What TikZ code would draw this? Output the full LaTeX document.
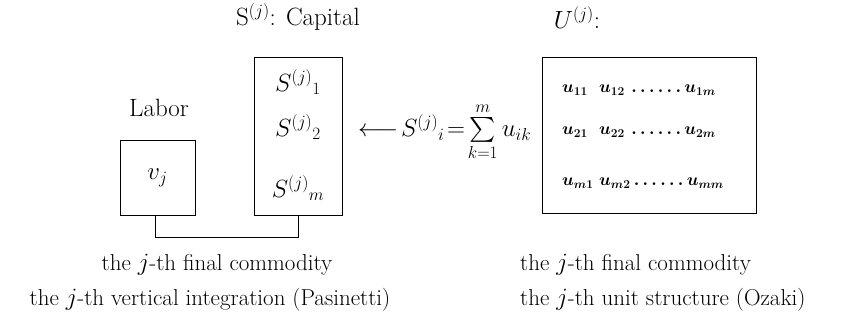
\documentclass[tikz,border=0pt]{standalone}
\usepackage{amsmath}
\usepackage{fontspec}
\usetikzlibrary{calc}
\begin{document}
\begin{tikzpicture}[x=1pt,y=-1pt,
  txt/.style={inner sep=0pt, font=\fontsize{23}{27}\selectfont},
  big/.style={inner sep=0pt, font=\fontsize{25}{29}\selectfont},
  row/.style={inner sep=0pt, anchor=west, font=\fontsize{18.5}{22}\selectfont\boldmath},
  box/.style={draw, line width=0.9pt},
  conn/.style={draw, line width=0.9pt}]
\useasboundingbox (0,0) rectangle (866,320);
% titles
\node[big] (tcap) at (298,17) {$\mathrm{S}^{(j)}$: Capital};
\node[big] (tu) at (577,18) {$U^{(j)}$:};
\node[big] (labor) at (159,108) {Labor};
% boxes
\node[box, minimum width=75pt, minimum height=75pt, inner sep=0pt] (lbox) at (157.5,177.5) {};
\node[txt] (vj) at (lbox.center) {$v_j$};
\node[box, minimum width=88pt, minimum height=158pt, inner sep=0pt] (cbox) at (298,136) {};
\node[txt] (s1) at (298,82) {$S^{(j)}{}_1$};
\node[txt] (s2) at (298,127) {$S^{(j)}{}_2$};
\node[txt] (sm) at (298,188) {$S^{(j)}{}_m$};
\node[box, minimum width=214pt, minimum height=156pt, inner sep=0pt] (ubox) at (649,135) {};
\node[row] (r1) at (562,90) {$u_{11}\;\; u_{12}\,\ldots\ldots u_{1m}$};
\node[row] (r2) at (562,132) {$u_{21}\;\; u_{22}\,\ldots\ldots u_{2m}$};
\node[row] (r3) at (562,183) {$u_{m1}\; u_{m2}\ldots\ldots u_{mm}$};
% formula
\node[txt, anchor=west] (form) at (358,132) {$\longleftarrow\! S^{(j)}{}_i\!=\!\sum\limits_{k=1}^{m} u_{ik}$};
% connector
\coordinate (c1) at ($(lbox.south)+(-2,22)$);
\draw[conn] (lbox.south -| c1) -- (c1) -- (c1 -| cbox.south) -- (cbox.south);
% bottom text
\node[txt] (b1) at (217,265) {the $j$-th final commodity};
\node[txt] (b2) at (210,300) {the $j$-th vertical integration (Pasinetti)};
\node[txt, anchor=west] (b3) at (520,265) {the $j$-th final commodity};
\node[txt, anchor=west] (b4) at (520,300) {the $j$-th unit structure (Ozaki)};
\end{tikzpicture}
\end{document}
